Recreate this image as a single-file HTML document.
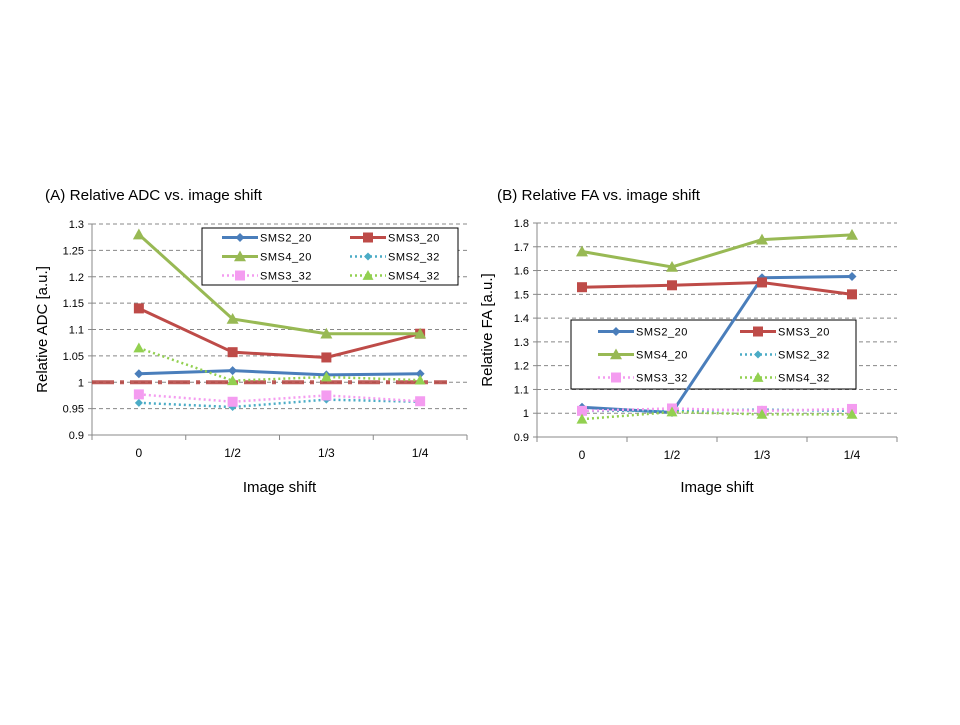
<!DOCTYPE html>
<html><head><meta charset="utf-8"><style>
body{margin:0;background:#fff;width:960px;height:720px;overflow:hidden}
svg{font-family:"Liberation Sans",Arial,sans-serif}
</style></head><body>
<svg id="s" width="960" height="720"></svg>
<script>
const categories=["0","1/2","1/3","1/4"];
const seriesNames=["SMS2_20","SMS3_20","SMS4_20","SMS2_32","SMS3_32","SMS4_32"];
const adcSMS2_20=[1.016,1.022,1.014,1.016];
const adcSMS3_20=[1.14,1.057,1.047,1.092];
const adcSMS4_20=[1.28,1.12,1.092,1.092];
const adcSMS2_32=[0.961,0.953,0.967,0.963];
const adcSMS3_32=[0.977,0.963,0.975,0.964];
const adcSMS4_32=[1.065,1.003,1.01,1.004];
const adcTicks=["0.9","0.95","1","1.05","1.1","1.15","1.2","1.25","1.3"];
const faSMS2_20=[1.025,1.003,1.57,1.575];
const faSMS3_20=[1.53,1.538,1.55,1.50];
const faSMS4_20=[1.68,1.615,1.73,1.75];
const faSMS2_32=[1.01,1.01,1.015,1.01];
const faSMS3_32=[1.01,1.02,1.01,1.018];
const faSMS4_32=[0.975,1.005,0.995,0.995];
const faTicks=["0.9","1","1.1","1.2","1.3","1.4","1.5","1.6","1.7","1.8"];

const NS="http://www.w3.org/2000/svg";
const svg=document.getElementById('s');
function mk(tag,attrs,parent,text){const e=document.createElementNS(NS,tag);for(const k in attrs)e.setAttribute(k,attrs[k]);if(text!==undefined)e.textContent=text;(parent||svg).appendChild(e);return e;}
const styles=[
 {c:"#4a7ebb",w:3,dash:null,m:"diamond",ms:4.5},
 {c:"#be4b48",w:3,dash:null,m:"square",ms:5},
 {c:"#98b954",w:3,dash:null,m:"tri",ms:6},
 {c:"#4bacc6",w:2.5,dash:"2,3",m:"diamond",ms:4},
 {c:"#f49cf0",w:2.5,dash:"2,3",m:"square",ms:5},
 {c:"#92d050",w:2.5,dash:"2,3",m:"tri",ms:5.5}];
function marker(g,m,x,y,s,c){
 let e;
 if(m==="diamond")e=mk('polygon',{points:`${x},${y-s} ${x+s},${y} ${x},${y+s} ${x-s},${y}`,fill:c},g);
 else if(m==="square")e=mk('rect',{x:x-s,y:y-s,width:2*s,height:2*s,fill:c},g);
 else e=mk('polygon',{points:`${x},${y-s} ${x+s},${y+s*0.8} ${x-s},${y+s*0.8}`,fill:c},g);
 return e;
}
function chart(o){
 const g=mk('g',{},svg);
 
 
 const yv=v=>o.yBot-(v-o.min)/(o.max-o.min)*(o.yBot-o.yTop);
 const xc=i=>o.x0+(i+0.5)*(o.x1-o.x0)/categories.length;
 const t=mk('text',{x:o.tx,y:200,'font-size':15,fill:'#000',textLength:o.tl,lengthAdjust:'spacingAndGlyphs'},g,o.title);
 
 o.ticks.forEach(tk=>{const v=parseFloat(tk),y=yv(v);
  if(v>o.min){const l=mk('line',{x1:o.x0,x2:o.x1,y1:y,y2:y,stroke:'#888','stroke-dasharray':'4,3','stroke-width':1},g);}
  const lb=mk('text',{x:o.x0-8,y:y+4,'font-size':11,'text-anchor':'end'},g,tk);
  mk('line',{x1:o.x0-4,x2:o.x0,y1:y,y2:y,stroke:'#888'},g);
 });
 mk('line',{x1:o.x0,x2:o.x0,y1:o.yTop,y2:o.yBot,stroke:'#888'},g);
 mk('line',{x1:o.x0,x2:o.x1,y1:o.yBot,y2:o.yBot,stroke:'#888'},g);
 const step=(o.x1-o.x0)/categories.length;
 for(let i=0;i<=categories.length;i++)mk('line',{x1:o.x0+i*step,x2:o.x0+i*step,y1:o.yBot,y2:o.yBot+5,stroke:'#888'},g);
 categories.forEach((c,i)=>{const l=mk('text',{x:xc(i),y:o.yBot+22,'font-size':12,'text-anchor':'middle'},g,c);});
 const xt=mk('text',{x:(o.x0+o.x1)/2,y:492,'font-size':15,'text-anchor':'middle'},g,'Image shift');
 
 const cy=(o.yTop+o.yBot)/2;
 const yt=mk('text',{x:0,y:0,'font-size':15,'text-anchor':'middle',transform:`translate(${o.x0-45},${cy}) rotate(-90)`},g,o.ytitle);
 
 const L=o.legend;
 const lg=mk('g',{},g);
 mk('rect',{x:L.x,y:L.y,width:L.w,height:L.h,fill:'#fff',stroke:'#000','stroke-width':1},lg);
 seriesNames.forEach((n,si)=>{const st=styles[si];const col=si%2,row=Math.floor(si/2);
  const ex=L.x+L.pad+col*L.colW,ey=L.y+L.h/6*(row*2+1);
  const e=mk('g',{},lg);
  const ln=mk('line',{x1:ex,x2:ex+36,y1:ey,y2:ey,stroke:st.c,'stroke-width':st.w},e);
  if(st.dash)ln.setAttribute('stroke-dasharray',st.dash);
  marker(e,st.m,ex+18,ey,st.ms,st.c);
  mk('text',{x:ex+38,y:ey+4,'font-size':11,'letter-spacing':'0.5'},e,n);
 });
 if(o.refLine){const r=mk('line',{x1:o.x0,x2:o.x1-20,y1:yv(1),y2:yv(1),stroke:'#b5413e','stroke-width':4,'stroke-dasharray':'22,6,4,6','opacity':0.85},g);}
 o.series.forEach((vals,si)=>{const st=styles[si];
  const sg=mk('g',{},g);
  const pts=vals.map((v,i)=>xc(i)+','+yv(v)).join(' ');
  const pl=mk('polyline',{points:pts,fill:'none',stroke:st.c,'stroke-width':st.w},sg);
  if(st.dash)pl.setAttribute('stroke-dasharray',st.dash);
  vals.forEach((v,i)=>marker(sg,st.m,xc(i),yv(v),st.ms,st.c));
 });
}
chart({id:'adc-chart',title:'(A) Relative ADC vs. image shift',tx:45,tl:217,ytitle:'Relative ADC [a.u.]',x0:92,x1:467,yTop:224,yBot:435,min:0.9,max:1.3,ticks:adcTicks,refLine:true,
 series:[adcSMS2_20,adcSMS3_20,adcSMS4_20,adcSMS2_32,adcSMS3_32,adcSMS4_32],
 legend:{x:202,y:228,w:256,h:57,pad:20,colW:128}});
chart({id:'fa-chart',title:'(B) Relative FA vs. image shift',tx:497,tl:203,ytitle:'Relative FA [a.u.]',x0:537,x1:897,yTop:223,yBot:437,min:0.9,max:1.8,ticks:faTicks,refLine:false,
 series:[faSMS2_20,faSMS3_20,faSMS4_20,faSMS2_32,faSMS3_32,faSMS4_32],
 legend:{x:571,y:320,w:285,h:69,pad:27,colW:142}});
</script>
</body></html>
